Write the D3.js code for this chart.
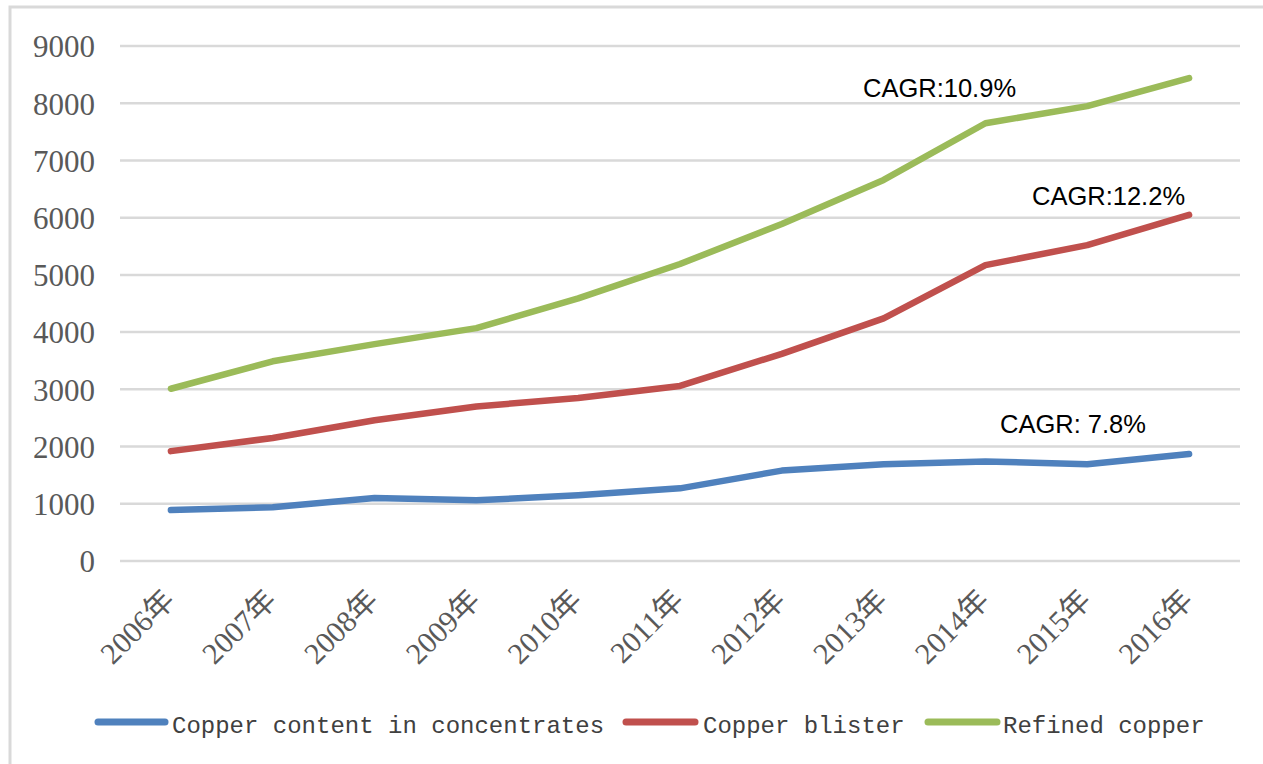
<!DOCTYPE html>
<html>
<head>
<meta charset="utf-8">
<script src="https://cdn.jsdelivr.net/npm/d3@7"></script>
<style>
  html, body { margin: 0; padding: 0; background: #fff; }
  svg { display: block; }
</style>
</head>
<body>
<svg id="chart" width="1263" height="764"></svg>
<script>
const years = ["2006年","2007年","2008年","2009年","2010年","2011年","2012年","2013年","2014年","2015年","2016年"];
const yTicks = [0,1000,2000,3000,4000,5000,6000,7000,8000,9000];
const concentrates = [890, 940, 1100, 1060, 1150, 1270, 1580, 1690, 1740, 1690, 1870];
const blister = [1920, 2150, 2460, 2700, 2850, 3060, 3620, 4240, 5170, 5520, 6050];
const refined = [3010, 3490, 3790, 4070, 4590, 5190, 5890, 6660, 7650, 7950, 8440];
const seriesNames = ["Copper content in concentrates", "Copper blister", "Refined copper"];
const annotations = [
  {label: "CAGR:10.9%", series: 2},
  {label: "CAGR:12.2%", series: 1},
  {label: "CAGR: 7.8%", series: 0}
];

const colors = ["#4F81BD", "#C0504D", "#9BBB59"];
const seriesData = [concentrates, blister, refined];

const svg = d3.select("#chart");

// outer border
svg.append("rect")
  .attr("x", 10).attr("y", 7)
  .attr("width", 1300).attr("height", 800)
  .attr("fill", "none").attr("stroke", "#d9d9d9").attr("stroke-width", 3);

const plotLeft = 120, plotRight = 1240, plotTop = 46, plotBottom = 561;

const x = d3.scalePoint().domain(years).range([plotLeft, plotRight]).padding(0.5);
const y = d3.scaleLinear().domain([0, 9000]).range([plotBottom, plotTop]);

// gridlines
svg.append("g").selectAll("line").data(yTicks).join("line")
  .attr("x1", plotLeft).attr("x2", plotRight)
  .attr("y1", d => y(d)).attr("y2", d => y(d))
  .attr("stroke", "#d9d9d9").attr("stroke-width", 2.5);

// y axis labels
const yAxis = d3.axisLeft(y).tickValues(yTicks).tickSize(0).tickPadding(0).tickFormat(d3.format("d"));
const yg = svg.append("g").attr("transform", "translate(95,0)").call(yAxis);
yg.select(".domain").remove();
yg.selectAll("text")
  .attr("font-family", "'Liberation Serif', 'Times New Roman', serif")
  .attr("font-size", 31).attr("fill", "#595959").attr("dy", "0.35em");

// x axis labels
const xAxis = d3.axisBottom(x).tickSize(0).tickPadding(0);
const xg = svg.append("g").attr("transform", `translate(0,${plotBottom})`).call(xAxis);
xg.select(".domain").remove();
xg.selectAll("text")
  .attr("font-family", "'Liberation Serif', 'Noto Sans CJK SC', serif")
  .attr("font-size", 30).attr("fill", "#595959")
  .attr("text-anchor", "end")
  .attr("dy", null)
  .attr("transform", "translate(5,41) rotate(-45)");

// lines
const line = d3.line().x((d, i) => x(years[i])).y(d => y(d)).curve(d3.curveLinear);
seriesData.forEach((data, i) => {
  svg.append("path")
    .datum(data)
    .attr("d", line)
    .attr("fill", "none")
    .attr("stroke", colors[i])
    .attr("stroke-width", 6.5)
    .attr("stroke-linecap", "round")
    .attr("stroke-linejoin", "round");
});

// annotations
const annPos = [
  {x: 863, y: 97},
  {x: 1032, y: 205},
  {x: 1000, y: 433}
];
annotations.forEach((a, i) => {
  svg.append("text")
    .attr("x", annPos[i].x).attr("y", annPos[i].y)
    .attr("font-family", "'Liberation Sans', Arial, sans-serif")
    .attr("font-size", 25.5).attr("fill", "#000")
    .text(a.label);
});

// legend
const legendItems = [
  {lx1: 95, lx2: 168, tx: 172},
  {lx1: 623, lx2: 698, tx: 703},
  {lx1: 925, lx2: 1000, tx: 1003}
];
const lg = svg.append("g");
seriesNames.forEach((name, i) => {
  const it = legendItems[i];
  lg.append("line")
    .attr("x1", it.lx1 + 3).attr("x2", it.lx2 - 3)
    .attr("y1", 722).attr("y2", 722)
    .attr("stroke", colors[i]).attr("stroke-width", 7)
    .attr("stroke-linecap", "round");
  lg.append("text")
    .attr("x", it.tx).attr("y", 725)
    .attr("dy", "0.35em")
    .attr("font-family", "'Liberation Mono', 'DejaVu Sans Mono', monospace")
    .attr("font-size", 24).attr("fill", "#404040")
    .text(name);
});
</script>
</body>
</html>
